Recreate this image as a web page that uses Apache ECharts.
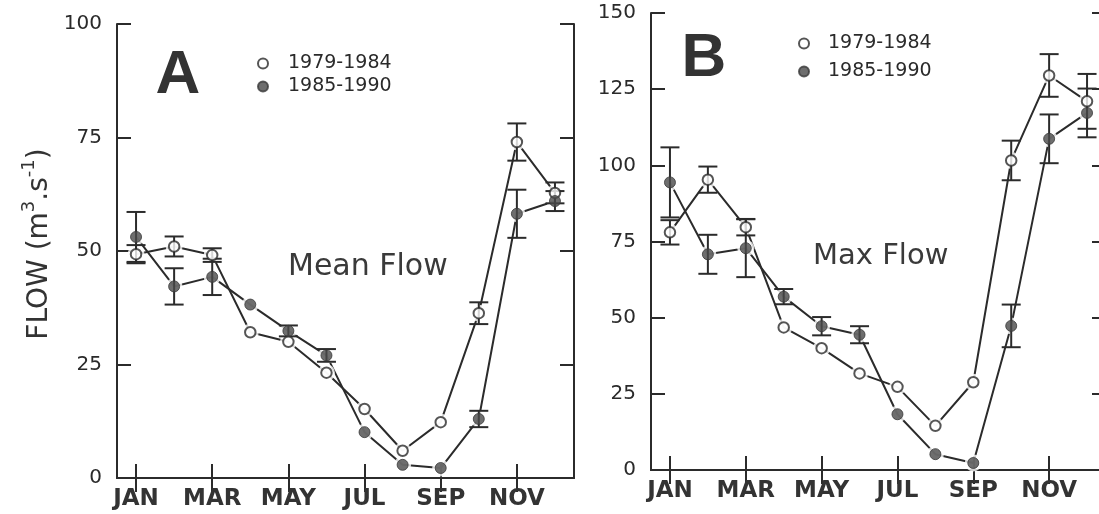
<!DOCTYPE html>
<html>
<head>
<meta charset="utf-8">
<script src="https://cdn.jsdelivr.net/npm/echarts@6/dist/echarts.min.js"></script>
<style>
  html, body { margin: 0; padding: 0; background: #ffffff; }
  #chart { width: 1099px; height: 514px; }
</style>
</head>
<body>
<div id="chart"></div>
<script>
// Monthly river flow, two periods, mean (A) and maximum (B) with error bars.
const MONTHS = ['JAN', 'FEB', 'MAR', 'APR', 'MAY', 'JUN', 'JUL', 'AUG', 'SEP', 'OCT', 'NOV', 'DEC'];
const PERIODS = ['1979-1984', '1985-1990'];

// Panel A: mean flow (m3/s)
const MEAN_7984     = [49.3, 51.0, 49.1, 32.1, 30.0, 23.2, 15.2, 6.0, 12.3, 36.3, 74.0, 62.8];
const MEAN_7984_ERR = [2.0, 2.2, 1.5, null, null, null, null, null, null, 2.4, 4.1, 2.3];
const MEAN_8590     = [53.1, 42.2, 44.3, 38.2, 32.4, 27.0, 10.1, 2.9, 2.2, 13.0, 58.2, 61.0];
const MEAN_8590_ERR = [5.5, 4.0, 4.0, null, 1.2, 1.4, null, null, null, 1.8, 5.3, 2.2];

// Panel B: maximum flow (m3/s)
const MAX_7984     = [78.0, 95.3, 79.7, 46.8, 40.0, 31.7, 27.3, 14.5, 28.8, 101.6, 129.5, 121.0];
const MAX_7984_ERR = [4.0, 4.3, 2.7, null, null, null, null, null, null, 6.5, 7.0, 9.0];
const MAX_8590     = [94.4, 70.8, 72.8, 56.9, 47.2, 44.4, 18.3, 5.2, 2.3, 47.3, 108.7, 117.2];
const MAX_8590_ERR = [11.5, 6.4, 9.5, 2.5, 3.0, 2.8, null, null, null, 7.0, 8.0, 8.0];

const Y_MAX = [100, 150];
const Y_STEP = 25;

const INK = '#2b2b2b';
const DARK_FILL = '#4a4a4a';
const NUM_FONT = 'DejaVu Sans';

function errorRows(values, errs) {
  const rows = [];
  values.forEach((v, i) => {
    if (errs[i] != null) rows.push([i, v - errs[i], v + errs[i]]);
  });
  return rows;
}

function renderErrorBar(params, api) {
  const hi = api.coord([api.value(0), api.value(2)]);
  const lo = api.coord([api.value(0), api.value(1)]);
  const hw = 9.5;
  const style = { stroke: INK, lineWidth: 2 };
  return {
    type: 'group',
    children: [
      { type: 'line', shape: { x1: hi[0], y1: hi[1], x2: lo[0], y2: lo[1] }, style },
      { type: 'line', shape: { x1: hi[0] - hw, y1: hi[1], x2: hi[0] + hw, y2: hi[1] }, style },
      { type: 'line', shape: { x1: lo[0] - hw, y1: lo[1], x2: lo[0] + hw, y2: lo[1] }, style }
    ]
  };
}

function panelSeries(g, open, openErr, solid, solidErr) {
  const ax = { xAxisIndex: g * 2, yAxisIndex: g * 2 };
  const line = (data) => ({
    ...ax, type: 'line', data, symbol: 'none', silent: true, z: 1,
    lineStyle: { color: INK, width: 2 }
  });
  const halo = (data) => ({
    ...ax, type: 'scatter', data, symbol: 'circle', symbolSize: 17, silent: true, z: 2,
    itemStyle: { color: '#ffffff' }
  });
  const bars = (values, errs) => ({
    ...ax, type: 'custom', data: errorRows(values, errs), silent: true, z: 3,
    encode: { x: 0, y: [1, 2] }, renderItem: renderErrorBar
  });
  return [
    line(open), line(solid),
    halo(open), halo(solid),
    bars(open, openErr), bars(solid, solidErr),
    {
      ...ax, type: 'scatter', name: PERIODS[0], data: open, symbol: 'circle', symbolSize: 10.5, z: 4,
      itemStyle: { color: '#ffffff', borderColor: INK, borderWidth: 2 }
    },
    {
      ...ax, type: 'scatter', name: PERIODS[1], data: solid, symbol: 'circle', symbolSize: 11, z: 4,
      itemStyle: { color: DARK_FILL, borderColor: '#383838', borderWidth: 1 }
    }
  ];
}

function xAxes(g) {
  const common = {
    gridIndex: g, type: 'category', data: MONTHS, boundaryGap: true,
    axisLine: { show: true, lineStyle: { color: INK, width: 2 } },
    axisTick: { show: true, inside: true, length: 14, alignWithLabel: true, interval: 1,
                lineStyle: { color: INK, width: 2 } },
    splitLine: { show: false }
  };
  return [
    { ...common, position: 'bottom',
      axisLabel: { interval: 1, margin: 10, fontFamily: NUM_FONT, fontWeight: 'bold',
                   fontSize: 23, color: '#333333' } },
    { ...common, position: 'top', axisLabel: { show: false } }
  ];
}

function yAxes(g) {
  const common = {
    gridIndex: g, type: 'value', min: 0, max: Y_MAX[g], interval: Y_STEP,
    axisLine: { show: true, lineStyle: { color: INK, width: 2 } },
    axisTick: { show: true, inside: true, length: 14, lineStyle: { color: INK, width: 2 } },
    splitLine: { show: false }
  };
  return [
    { ...common, position: 'left',
      axisLabel: { margin: 15, fontFamily: NUM_FONT, fontSize: 20, color: '#2a2a2a' } },
    { ...common, position: 'right', axisLabel: { show: false } }
  ];
}

const legendBase = {
  data: PERIODS, orient: 'vertical', itemWidth: 10, itemHeight: 10, selectedMode: false
};
const legendText = (pad) => ({ fontFamily: NUM_FONT, fontSize: 19, color: '#2a2a2a', padding: [0, 0, 0, pad] });

const option = {
  animation: false,
  backgroundColor: '#ffffff',
  grid: [
    { left: 117, top: 24, width: 457, height: 454, outerBoundsMode: 'none', containLabel: false },
    { left: 651, top: 13, width: 455, height: 457, outerBoundsMode: 'none', containLabel: false }
  ],
  xAxis: [...xAxes(0), ...xAxes(1)],
  yAxis: [...yAxes(0), ...yAxes(1)],
  legend: [
    { ...legendBase, left: 252, top: 49, itemGap: 4, textStyle: legendText(15) },
    { ...legendBase, left: 793, top: 29, itemGap: 9, textStyle: legendText(14) }
  ],
  series: [
    ...panelSeries(0, MEAN_7984, MEAN_7984_ERR, MEAN_8590, MEAN_8590_ERR),
    ...panelSeries(1, MAX_7984, MAX_7984_ERR, MAX_8590, MAX_8590_ERR)
  ],
  graphic: [
    { type: 'text', x: 178, y: 76, style: { text: 'A', font: 'bold 62px "Liberation Sans"',
      fill: '#333333', align: 'center', verticalAlign: 'middle' } },
    { type: 'text', x: 704, y: 59, style: { text: 'B', font: 'bold 62px "Liberation Sans"',
      fill: '#333333', align: 'center', verticalAlign: 'middle' } },
    { type: 'text', x: 288, y: 267, style: { text: 'Mean Flow', font: '30px "DejaVu Sans"',
      fill: '#3a3a3a', align: 'left', verticalAlign: 'middle' } },
    { type: 'text', x: 813, y: 256, style: { text: 'Max Flow', font: '29px "DejaVu Sans"',
      fill: '#3a3a3a', align: 'left', verticalAlign: 'middle' } },
    { type: 'text', x: 37, y: 244, rotation: Math.PI / 2,
      style: {
        text: '{a|FLOW (m}{s|3}{a|.s}{s|-1}{a|)}',
        align: 'center', verticalAlign: 'middle',
        rich: {
          a: { fontFamily: NUM_FONT, fontSize: 28, fill: '#333333', lineHeight: 34, verticalAlign: 'bottom' },
          s: { fontFamily: NUM_FONT, fontSize: 18, fill: '#333333', lineHeight: 34, verticalAlign: 'top' }
        }
      } }
  ]
};

const chart = echarts.init(document.getElementById('chart'), null, { renderer: 'canvas' });
chart.setOption(option);
</script>
</body>
</html>
